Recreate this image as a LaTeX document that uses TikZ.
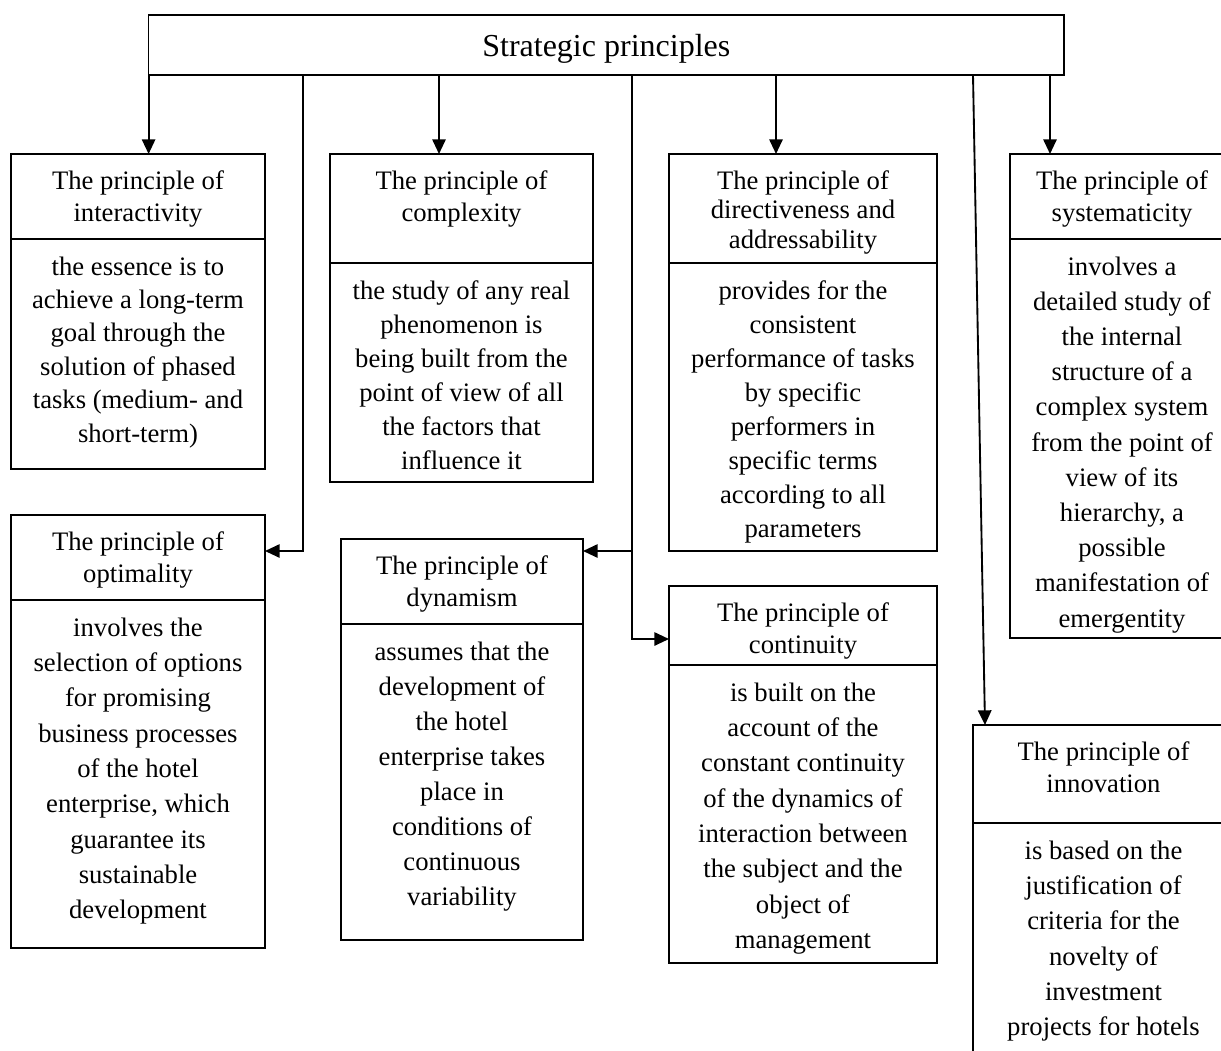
\documentclass[tikz,border=0pt]{standalone}
\usepackage{fontspec}
\setmainfont{Liberation Serif}
\usetikzlibrary{arrows.meta,calc}
\tikzset{
  pbox/.style={draw, line width=1.3pt, inner sep=0pt, outer sep=0pt, anchor=north west},
  conn/.style={line width=1.4pt},
  arr/.style={conn, -{Triangle[length=11pt,width=10pt]}}
}
% #1 name, #2 x1, #3 x2, #4 top, #5 divider, #6 bottom, #7 header, #8 body, #9 body line skip (pt)
\newcommand\principle[9]{%
  \pgfmathsetlengthmacro\pw{(#3-#2)*0.75pt}%
  \pgfmathsetlengthmacro\ph{(#5-#4)*0.75pt}%
  \pgfmathsetlengthmacro\pb{(#6-#5)*0.75pt}%
  \node[pbox] (#1h) at (#2,#4)
    {\parbox[c][\ph][t]{\pw}{\centering\fontsize{20}{24}\selectfont\rule{0pt}{26.5pt}#7}};
  \node[pbox] (#1b) at (#2,#5)
    {\parbox[c][\pb][t]{\pw}{\centering\fontsize{20}{#9}\selectfont\rule{0pt}{27pt}#8}};
}
\begin{document}
\begin{tikzpicture}[x=0.75pt,y=-0.75pt]
\useasboundingbox (0,0) rectangle (1221,1050);

\node[pbox, minimum width={(1064-148.6)*0.75pt}, minimum height={60*0.75pt},
      text depth=0pt, font=\fontsize{24}{28}\selectfont] (top) at (148.6,15) {Strategic principles};

\principle{inter}{11}{265}{154}{239}{469}
  {The principle of\\interactivity}
  {the essence is to\\achieve a long-term\\goal through the\\solution of phased\\tasks (medium- and\\short-term)}{25.1pt}

\principle{compl}{330}{593}{154}{263}{482}
  {The principle of\\complexity}
  {the study of any real\\phenomenon is\\being built from the\\point of view of all\\the factors that\\influence it}{25.5pt}

\principle{dir}{669}{937}{154}{263}{551}
  {\setlength\baselineskip{22pt}The principle of\\directiveness and\\addressability}
  {provides for the\\consistent\\performance of tasks\\by specific\\performers in\\specific terms\\according to all\\parameters}{25.5pt}

\principle{sys}{1010}{1234}{154}{239}{638}
  {The principle of\\systematicity}
  {involves a\\detailed study of\\the internal\\structure of a\\complex system\\from the point of\\view of its\\hierarchy, a\\possible\\manifestation of\\emergentity}{26.4pt}

\principle{opt}{11}{265}{515}{600}{948}
  {The principle of\\optimality}
  {involves the\\selection of options\\for promising\\business processes\\of the hotel\\enterprise, which\\guarantee its\\sustainable\\development}{26.5pt}

\principle{dyn}{341}{583}{539}{624}{940}
  {The principle of\\dynamism}
  {assumes that the\\development of\\the hotel\\enterprise takes\\place in\\conditions of\\continuous\\variability}{26.25pt}

\principle{cont}{669}{937}{586}{665}{963}
  {The principle of\\continuity}
  {is built on the\\account of the\\constant continuity\\of the dynamics of\\interaction between\\the subject and the\\object of\\management}{26.5pt}

\principle{inn}{973}{1234}{725}{823}{1062}
  {The principle of\\innovation}
  {is based on the\\justification of\\criteria for the\\novelty of\\investment\\projects for hotels}{26.5pt}

% connectors
\coordinate (cc) at ($(complh.north)+(-22.5,0)$);
\coordinate (cd) at ($(dirh.north)+(-27,0)$);
\coordinate (cs) at ($(sysh.north west)+(40,0)$);
\coordinate (ci) at ($(innh.north west)+(12,0)$);
\coordinate (jo) at (303,551);
\coordinate (jd) at (632,551);
\coordinate (jc) at (632,639);

\draw[arr] (top.south west) -- (top.south west |- interh.north);
\draw[arr] (top.south -| cc) -- (cc);
\draw[arr] (top.south -| cd) -- (cd);
\draw[arr] (top.south -| cs) -- (cs);
\draw[arr] (top.south -| innh.north west) -- (ci);
\draw[arr] (top.south -| jo) -- (jo) -- (jo -| opth.east);
\draw[arr] (top.south -| jc) -- (jc) -- (jc -| conth.west);
\draw[arr] (jd) -- (jd -| dynh.east);
\end{tikzpicture}
\end{document}
